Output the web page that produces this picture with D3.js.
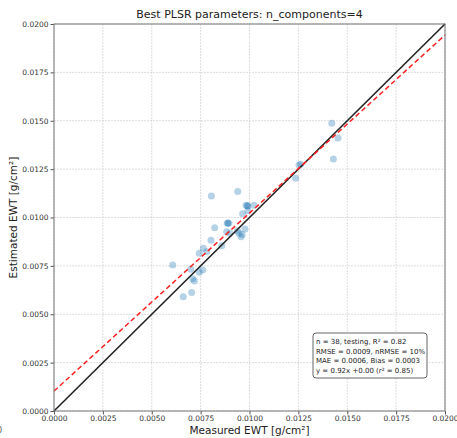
<!DOCTYPE html>
<html><head><meta charset="utf-8">
<script src="https://cdn.jsdelivr.net/npm/d3@7"></script>
<style>body{margin:0;background:#fff;} svg{display:block;font-family:"DejaVu Sans",sans-serif;}</style>
</head><body>
<svg id="c" width="457" height="438"></svg>
<script>
const measured = [0.00805,0.00940,0.00982,0.00991,0.01023,0.00965,0.00992,0.00886,0.00894,0.00822,
  0.00883,0.00900,0.00938,0.00977,0.00946,0.00957,0.00803,0.00858,0.00764,0.00743,
  0.00781,0.00607,0.00699,0.00761,0.00743,0.00710,0.00718,0.00661,0.00704,0.01421,
  0.01453,0.01429,0.01253,0.01236,0.01262,0.00990,0.00890,0.00962];
const estimated = [0.01111,0.01135,0.01063,0.01061,0.01063,0.01020,0.01035,0.00970,0.00970,0.00947,
  0.00927,0.00918,0.00932,0.00941,0.00918,0.00901,0.00882,0.00854,0.00841,0.00815,
  0.00823,0.00755,0.00732,0.00729,0.00717,0.00684,0.00672,0.00591,0.00613,0.01487,
  0.01411,0.01302,0.01271,0.01203,0.01275,0.01060,0.00972,0.00912];
const ticks = [0,0.0025,0.005,0.0075,0.01,0.0125,0.015,0.0175,0.02];
const fitSlope = 0.92, fitIntercept = 0.00103;
const title = "Best PLSR parameters: n_components=4";
const xLabel = "Measured EWT [g/cm²]";
const yLabel = "Estimated EWT [g/cm²]";
const statLines = ["n = 38,  testing, R\u00b2 = 0.82","RMSE = 0.0009, nRMSE = 10%","MAE = 0.0006, Bias = 0.0003","y = 0.92x +0.00 (r\u00b2 = 0.85)"];

const svg = d3.select("#c");
const L=54,R=445,T=24,B=411;
const x = d3.scaleLinear().domain([0,0.02]).range([L,R]);
const y = d3.scaleLinear().domain([0,0.02]).range([B,T]);

// grid
const g = svg.append("g");
g.selectAll(".vg").data(ticks).enter().append("line")
  .attr("x1",d=>x(d)).attr("x2",d=>x(d)).attr("y1",T).attr("y2",B)
  .attr("stroke","#d4d4d4").attr("stroke-width",0.8).attr("stroke-dasharray","2,1");
g.selectAll(".hg").data(ticks).enter().append("line")
  .attr("y1",d=>y(d)).attr("y2",d=>y(d)).attr("x1",L).attr("x2",R)
  .attr("stroke","#d4d4d4").attr("stroke-width",0.8).attr("stroke-dasharray","2,1");

// points
svg.append("g").selectAll("circle").data(measured).enter().append("circle")
  .attr("cx",d=>x(d)).attr("cy",(d,i)=>y(estimated[i])).attr("r",3.5)
  .attr("fill","#1f77b4").attr("fill-opacity",0.33);

// 1:1 line
svg.append("line").attr("x1",x(0)).attr("y1",y(0)).attr("x2",x(0.02)).attr("y2",y(0.02))
  .attr("stroke","#222").attr("stroke-width",1.6);
// fit line
svg.append("line").attr("x1",x(0)).attr("y1",y(fitIntercept)).attr("x2",x(0.02)).attr("y2",y(fitIntercept+fitSlope*0.02))
  .attr("stroke","#ff2020").attr("stroke-width",1.5).attr("stroke-dasharray","5,3");

// axes
const fmt = d3.format(".4f");
const xa = svg.append("g").attr("transform",`translate(0,${B})`)
  .call(d3.axisBottom(x).tickValues(ticks).tickFormat(fmt).tickSize(3.5).tickPadding(1.5));
const ya = svg.append("g").attr("transform",`translate(${L},0)`)
  .call(d3.axisLeft(y).tickValues(ticks).tickFormat(fmt).tickSize(3.5).tickPadding(2));
[xa,ya].forEach(a=>{
  a.select(".domain").remove();
  a.selectAll(".tick line").attr("stroke","#555");
  a.selectAll(".tick text").attr("fill","#333").style("font-size","7.5px").style("font-family","DejaVu Sans");
});
// frame
svg.append("rect").attr("x",L).attr("y",T).attr("width",R-L).attr("height",B-T)
  .attr("fill","none").attr("stroke","#777").attr("stroke-width",1);

// title & labels
svg.append("text").attr("x",(L+R)/2).attr("y",18).attr("text-anchor","middle")
  .style("font-size","11px").attr("fill","#222").text(title);
svg.append("text").attr("x",(L+R)/2).attr("y",434).attr("text-anchor","middle")
  .style("font-size","10.5px").attr("fill","#222").text(xLabel);
svg.append("text").attr("transform",`translate(17,${(T+B)/2}) rotate(-90)`).attr("text-anchor","middle")
  .style("font-size","10.5px").attr("fill","#222").text(yLabel);
svg.append("text").attr("x",-3).attr("y",433).style("font-size","8px").attr("fill","#555").text("0");

// stats box
const bx=313, by=333, bw=114, bh=45;
svg.append("rect").attr("x",bx).attr("y",by).attr("width",bw).attr("height",bh).attr("rx",3)
  .attr("fill","#fff").attr("stroke","#666").attr("stroke-width",1);
svg.append("g").selectAll("text").data(statLines).enter().append("text")
  .attr("x",bx+3).attr("y",(d,i)=>by+11+i*9.6)
  .style("font-size","7px").attr("fill","#222").text(d=>d);
</script>
</body></html>
